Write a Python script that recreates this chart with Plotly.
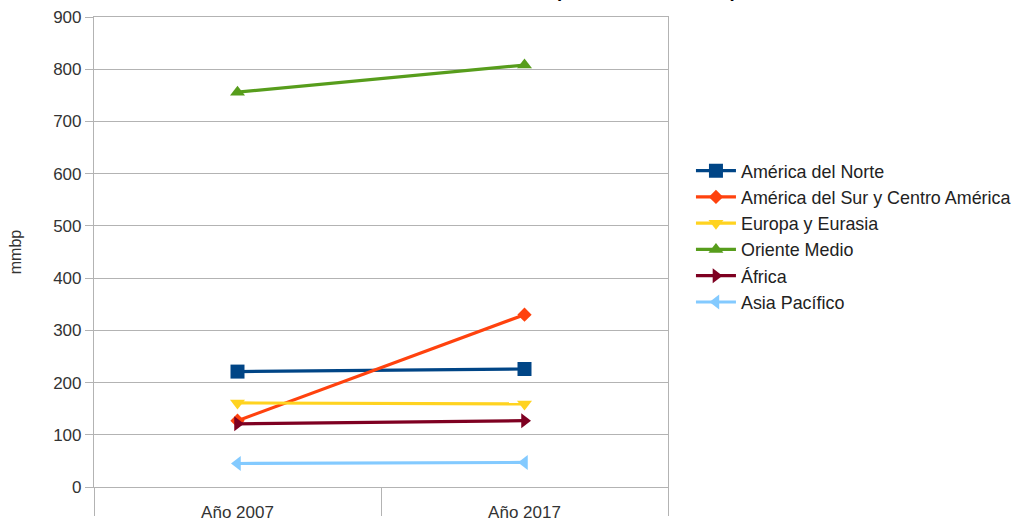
import plotly.graph_objects as go

categories = ["Año 2007", "Año 2017"]
series_names = ["América del Norte", "América del Sur y Centro América", "Europa y Eurasia",
                "Oriente Medio", "África", "Asia Pacífico"]
america_norte = [221, 226]
america_sur = [127, 330]
europa = [161, 159]
oriente = [756, 808]
africa = [121, 127]
asia = [45, 47]
series_values = [america_norte, america_sur, europa, oriente, africa, asia]
colors = ["#004586", "#ff420e", "#ffd320", "#579d1c", "#7e0021", "#83caff"]
symbols = ["square", "diamond", "triangle-down", "triangle-up", "triangle-right", "triangle-left"]
marker_sizes = [14, 11, 13, 13, 13, 13]
y_ticks = [0, 100, 200, 300, 400, 500, 600, 700, 800, 900]
category_bounds = [-0.5, 0.5, 1.5]
title_text = "Reservas probadas de crudo por zonas"

FONT = "Liberation Sans, Arial, sans-serif"
fig = go.Figure()
for name, vals, c, s, ms in zip(series_names, series_values, colors, symbols, marker_sizes):
    fig.add_trace(go.Scatter(x=categories, y=vals, name=name, mode="lines+markers",
                             line=dict(color=c, width=3.2),
                             marker=dict(symbol=s, size=ms, color=c)))
# helper trace so the boundary-tick axis is drawn
fig.add_trace(go.Scatter(x=category_bounds, y=[None] * len(category_bounds), xaxis="x2",
                         mode="lines", showlegend=False, hoverinfo="skip"))

fig.update_layout(
    width=1017, height=520,
    paper_bgcolor="white", plot_bgcolor="white",
    margin=dict(l=94, r=349, t=17, b=33, autoexpand=False),
    font=dict(family=FONT, size=17, color="#333333"),
    showlegend=True,
    legend=dict(x=1.04, xanchor="left", y=0.533, yanchor="middle",
                font=dict(size=17.9, color="#222222"), tracegroupgap=0, itemwidth=40,
                bgcolor="rgba(0,0,0,0)"),
    annotations=[dict(text="<b>" + title_text + "</b>", xref="paper", yref="paper",
                      x=(467 - 94) / 574, xanchor="left", y=1, yanchor="bottom", yshift=14,
                      showarrow=False, font=dict(size=18.6, color="black", family=FONT))],
    xaxis2=dict(overlaying="x", anchor="y", side="bottom", range=[-0.5, 1.5],
                tickvals=category_bounds, showticklabels=False, ticks="outside",
                ticklen=28, tickcolor="#b3b3b3", tickwidth=1.2, showgrid=False,
                showline=False, zeroline=False),
)

fig.layout.xaxis.update(range=[-0.5, 1.5], showgrid=False, showline=True, linecolor="#b3b3b3",
                        linewidth=1.2, mirror=True, ticks="outside", ticklen=9,
                        tickcolor="rgba(0,0,0,0)",
                        tickfont=dict(size=17, color="#333333"), zeroline=False)
fig.update_yaxes(range=[0, 900], tickvals=y_ticks, showgrid=True, gridcolor="#b3b3b3",
                 gridwidth=1.2, showline=True, linecolor="#b3b3b3", linewidth=1.2, mirror=True,
                 ticks="outside", ticklen=8, tickcolor="#b3b3b3",
                 tickfont=dict(size=17, color="#333333"), zeroline=False,
                 title=dict(text="mmbp", font=dict(size=16, color="#333333"), standoff=27))

fig.write_html("out.html", config={"displayModeBar": False},
               post_script="document.body.style.margin='0';")
